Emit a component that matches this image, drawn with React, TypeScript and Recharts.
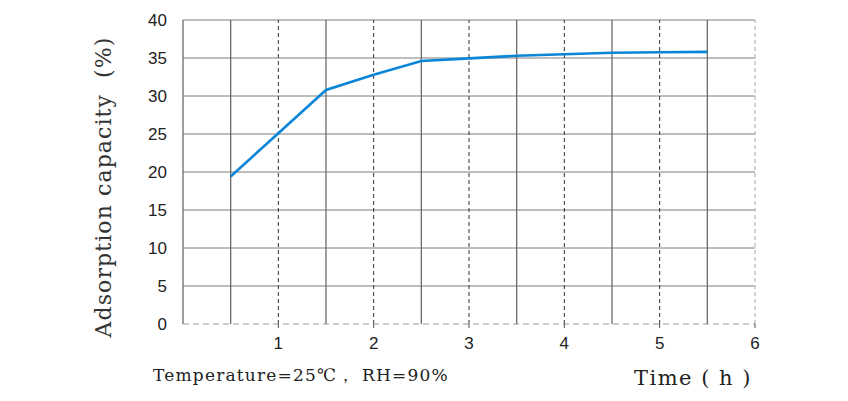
import { LineChart, Line, XAxis, YAxis, ReferenceLine, Label } from "recharts";

// Adsorption curve, sampled every half hour
const hours = [0.5, 1, 1.5, 2, 2.5, 3, 3.5, 4, 4.5, 5, 5.5];
const capacity = [19.4, 25.1, 30.8, 32.8, 34.6, 34.95, 35.3, 35.5, 35.7, 35.75, 35.8];

const xTicks = [1, 2, 3, 4, 5, 6];
const yTicks = [0, 5, 10, 15, 20, 25, 30, 35, 40];
const solidVerticals = [0, 0.5, 1.5, 2.5, 3.5, 4.5, 5.5];
const dashedVerticals = [1, 2, 3, 4, 5];
const horizontals = [5, 10, 15, 20, 25, 30, 35, 40];

const data = hours.map((h, i) => ({ h, value: capacity[i] }));

const SERIF = "'DejaVu Serif', 'Liberation Serif', serif";
const SANS = "'Liberation Sans', Arial, sans-serif";

export default function App() {
  return (
    <div style={{ position: "absolute", left: 0, top: 0, width: 848, height: 401, background: "#fff" }}>
      <LineChart width={848} height={401} data={data} margin={{ top: 20, right: 93, bottom: 47, left: 80 }}>
        {horizontals.map((v) => (
          <ReferenceLine key={"h" + v} y={v} stroke="#7d7d7d" strokeWidth={1} />
        ))}
        {solidVerticals.map((v) => (
          <ReferenceLine key={"s" + v} x={v} stroke="#6a6a6a" strokeWidth={1.3} />
        ))}
        {dashedVerticals.map((v) => (
          <ReferenceLine key={"d" + v} x={v} stroke="#333" strokeDasharray="4 3" />
        ))}
        <ReferenceLine x={6} stroke="#aaa" strokeDasharray="4 3" />
        <XAxis
          dataKey="h"
          type="number"
          domain={[0, 6]}
          ticks={xTicks}
          height={30}
          axisLine={{ stroke: "#999", strokeDasharray: "6 4" }}
          tickLine={{ stroke: "#555" }}
          tickSize={4}
          tickMargin={9}
          tick={{ fill: "#222", fontSize: 17, fontFamily: SANS }}
        >
          <Label
            content={() => (
              <g>
                <text x={153} y={381} fill="#222" fontSize={17} fontFamily={SERIF} letterSpacing={1.2}>
                  Temperature=25℃， RH=90%
                </text>
                <text x={752} y={385} textAnchor="end" fill="#222" fontSize={21} fontFamily={SERIF} letterSpacing={1.5}>
                  Time ( h )
                </text>
              </g>
            )}
          />
        </XAxis>
        <YAxis
          type="number"
          domain={[0, 40]}
          ticks={yTicks}
          width={103}
          axisLine={false}
          tickLine={false}
          tickSize={0}
          tickMargin={16}
          tick={{ fill: "#222", fontSize: 17, fontFamily: SANS }}
        >
          <Label
            content={() => (
              <text
                x={111}
                y={187}
                transform="rotate(-90 111 187)"
                textAnchor="middle"
                fill="#333"
                fontSize={22}
                fontFamily={SERIF}
                letterSpacing={1.1}
              >
                <tspan>Adsorption capacity</tspan>
                <tspan dx={16}>(%)</tspan>
              </text>
            )}
          />
        </YAxis>
        <Line
          type="linear"
          dataKey="value"
          stroke="#0a86d8"
          strokeWidth={2.6}
          dot={false}
          isAnimationActive={false}
        />
      </LineChart>
    </div>
  );
}
